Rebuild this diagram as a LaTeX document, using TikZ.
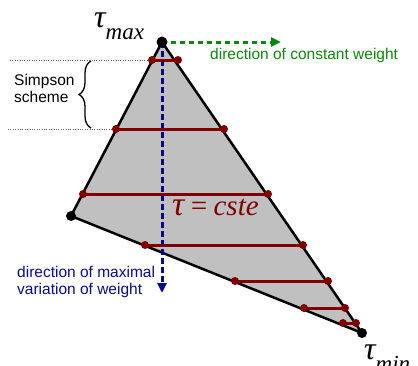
\documentclass[tikz,border=0pt]{standalone}
\usepackage{fontspec}
\setmainfont{Liberation Sans}
\newfontfamily\taufont{Liberation Serif}
\usetikzlibrary{arrows.meta,decorations.pathreplacing}

\definecolor{cred}{RGB}{128,0,0}
\definecolor{cgreen}{RGB}{10,135,10}
\definecolor{cblue}{RGB}{10,10,135}
\definecolor{cgray}{RGB}{192,192,192}

\newcommand{\tauwith}[1]{{\fontsize{32}{32}\selectfont τ}\raisebox{-12pt}{\fontsize{23}{23}\selectfont #1}}

\tikzset{
  vtx/.style={circle,fill=black,inner sep=0pt,minimum size=11pt},
  rdot/.style={circle,fill=cred,inner sep=0pt,minimum size=8pt},
  cste/.style={cred,line width=3pt},
  lbl/.style={font=\fontsize{15.5}{17.5}\selectfont,inner sep=0pt,align=left},
  taulbl/.style={font=\taufont\itshape,inner sep=0pt},
}

\begin{document}
\begin{tikzpicture}[x=1pt,y=-1pt]
\useasboundingbox (0,0) rectangle (418,365);

\coordinate (A) at (162,42);
\coordinate (B) at (71,216);
\coordinate (C) at (362,333);
\fill[cgray] (A) -- (B) -- (C) -- cycle;
\draw[line width=2.5pt,line join=round] (A) -- (B) -- (C) -- cycle;

% Simpson part
\draw[dotted,thin,gray!70!black] (10,60) coordinate (d1) -- (152,60);
\draw[dotted,thin,gray!70!black] (8,129) coordinate (d2) -- (116,129);
\draw[line width=1.3pt,decorate,decoration={brace,amplitude=12pt}] (91,128) coordinate (br1) -- (91,61) coordinate (br2);
\node[lbl,anchor=north west] (simp) at (14,74) {Simpson\\scheme};

% directions
\coordinate (vend) at (162,293);
\coordinate (hend) at (281,42);
\draw[cblue,line width=3pt,dash pattern=on 6pt off 3pt,-{Triangle[width=9pt,length=10pt]}] (A) -- (vend);
\draw[cgreen,line width=3pt,dash pattern=on 5pt off 4pt,-{Triangle[width=9pt,length=10pt]}] (A) -- (hend);
\node[lbl,cgreen,anchor=base west] (cw) at (210,59) {direction of constant weight};
\node[lbl,cblue,anchor=north west] (mv) at (17,266) {direction of maximal\\variation of weight};

% lines tau = cste
\node[rdot] (a1) at (152,60) {};  \node[rdot] (b1) at (178,60) {};
\node[rdot] (a2) at (116,129) {}; \node[rdot] (b2) at (224,129) {};
\node[rdot] (a3) at (83,194) {};  \node[rdot] (b3) at (268,194) {};
\node[rdot] (a4) at (145,245) {}; \node[rdot] (b4) at (303,245) {};
\node[rdot] (a5) at (235,281) {}; \node[rdot] (b5) at (328,281) {};
\node[rdot] (a6) at (304,308) {}; \node[rdot] (b6) at (345,308) {};
\node[rdot] (a7) at (343,323) {}; \node[rdot] (b7) at (356,323) {};
\draw[cste] (a1.center) -- (b1.center);
\draw[cste] (a2.center) -- (b2.center);
\draw[cste] (a3.center) -- (b3.center);
\draw[cste] (a4.center) -- (b4.center);
\draw[cste] (a5.center) -- (b5.center);
\draw[cste] (a6.center) -- (b6.center);
\draw[cste] (a7.center) -- (b7.center);
\node[taulbl,cred,anchor=base west,font=\taufont\itshape\fontsize{29}{29}\selectfont] (eq) at (172,215) {{\fontsize{34}{34}\selectfont τ}\,=\,cste};

% vertices
\node[vtx] (tmax) at (A) {};
\node[vtx,minimum size=10pt] (tleft) at (B) {};
\node[vtx,minimum size=10pt] (tmin) at (C) {};
\node[taulbl,anchor=base west] (lmax) at (94,27) {\tauwith{max}};
\node[taulbl,anchor=base west] (lmin) at (364,359) {\tauwith{min}};
\end{tikzpicture}
\end{document}
